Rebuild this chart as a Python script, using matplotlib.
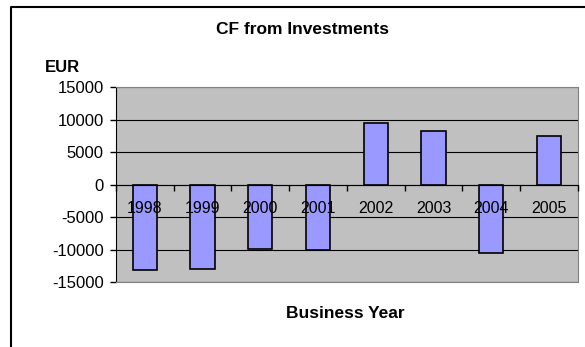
import numpy as np
import matplotlib.pyplot as plt
from matplotlib.lines import Line2D

plt.rcParams['font.family'] = ['Liberation Sans', 'DejaVu Sans']
plt.rcParams['axes.unicode_minus'] = False

years = ['1998', '1999', '2000', '2001', '2002', '2003', '2004', '2005']
cash_flow = [-13200, -13000, -9900, -10100, 9400, 8200, -10600, 7500]
y_ticks = [-15000, -10000, -5000, 0, 5000, 10000, 15000]

fig = plt.figure(figsize=(5.85, 3.47), dpi=100)
ax = fig.add_axes([0.1983, 0.1873, 0.7897, 0.5617])

x = np.arange(len(years))
ax.bar(x, cash_flow, width=0.42, color='#9999FF', edgecolor='black', linewidth=1.2, zorder=2)

ax.set_facecolor('#C0C0C0')
ax.set_xlim(-0.5, len(years) - 0.5)
ax.set_ylim(-15000, 15000)
ax.set_yticks(y_ticks)
ax.tick_params(axis='y', direction='out', length=4, width=1, labelsize=12, pad=5)
ax.yaxis.grid(True, color='black', linewidth=0.8)
ax.set_axisbelow(True)

ax.set_xticks([])
for side in ['top', 'right', 'bottom']:
    ax.spines[side].set_color('#808080')
ax.spines['left'].set_color('black')

# category axis sits on the zero line, labels just under it
cat = ax.secondary_xaxis(0.5)
cat.set_zorder(5)
cat.set_xticks(np.arange(len(years) + 1) - 0.5)
cat.set_xticklabels([])
cat.set_xticks(x, labels=years, minor=True)
cat.tick_params(axis='x', which='both', bottom=True, top=False,
                labelbottom=True, labeltop=False)
cat.tick_params(axis='x', which='major', direction='out', length=4, width=1)
cat.tick_params(axis='x', which='minor', length=0, labelsize=11.5, pad=12)
cat.spines['bottom'].set_linewidth(1.0)

fig.text(302 / 585, 1 - 30 / 347, 'CF from Investments', ha='center', va='center',
         fontsize=12.5, fontweight='bold')
fig.text(45 / 585, 1 - 68 / 347, 'EUR', ha='left', va='center',
         fontsize=12, fontweight='bold')
fig.text(345 / 585, 1 - 313 / 347, 'Business Year', ha='center', va='center',
         fontsize=12.5, fontweight='bold')

# chart border
fig.add_artist(Line2D([11 / 585, 11 / 585, 1], [0, 1 - 7 / 347, 1 - 7 / 347],
                      transform=fig.transFigure, color='black', linewidth=1.5))

fig.savefig('out.png', dpi=100)
